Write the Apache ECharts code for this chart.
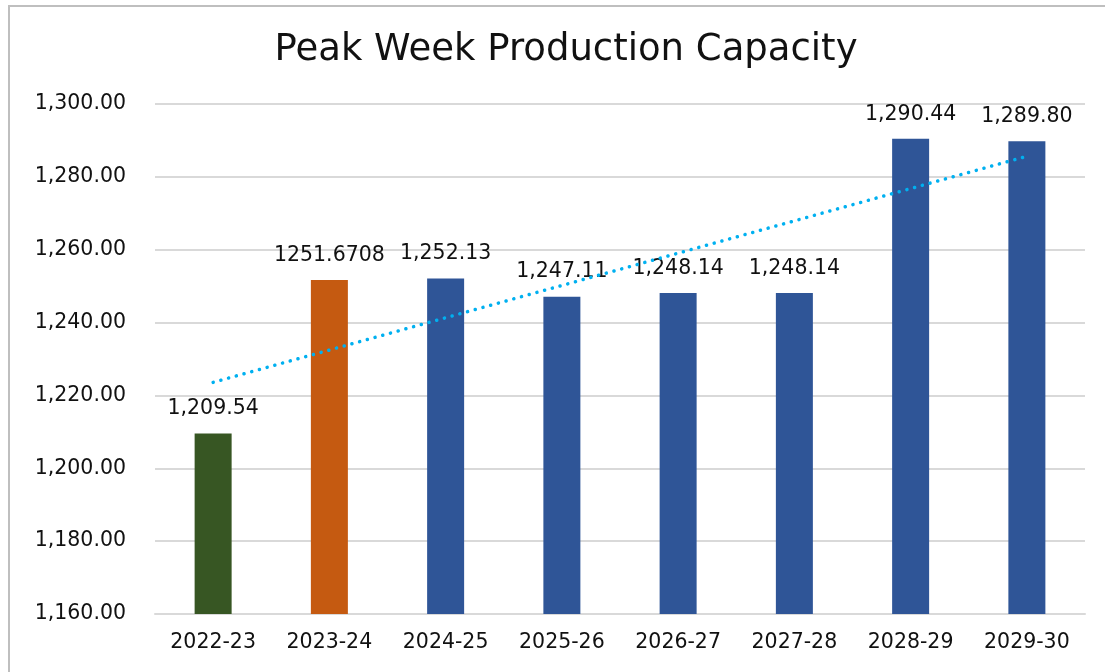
<!DOCTYPE html>
<html>
<head>
<meta charset="utf-8">
<script src="https://cdn.jsdelivr.net/npm/echarts@6/dist/echarts.min.js"></script>
<style>
  html, body { margin: 0; padding: 0; background: #fff; overflow: hidden; width: 1105px; height: 672px; }
  #frame { position: absolute; left: 8px; top: 5px; width: 1097px; height: 667px; border-left: 2px solid #BFBFBF; border-top: 2px solid #BFBFBF; box-sizing: border-box; }
  #main { position: absolute; left: 0; top: 0; width: 1105px; height: 672px; }
</style>
</head>
<body>
<div id="frame"></div>
<div id="main"></div>
<script>
// 年份
var years = ['2022-23', '2023-24', '2024-25', '2025-26', '2026-27', '2027-28', '2028-29', '2029-30'];
// 产能
var capacity = [1209.54, 1251.6708, 1252.13, 1247.11, 1248.14, 1248.14, 1290.44, 1289.80];
// 显示的标签（第二个在原图里没有格式化）
var labels = ['1,209.54', '1251.6708', '1,252.13', '1,247.11', '1,248.14', '1,248.14', '1,290.44', '1,289.80'];
// 柱子颜色
var barColors = ['#375623', '#C55A11', '#2F5597', '#2F5597', '#2F5597', '#2F5597', '#2F5597', '#2F5597'];

var FONT = 'DejaVu Sans';

//线性趋势线（最小二乘）
var n = capacity.length, sx = 0, sy = 0, sxy = 0, sxx = 0;
for (var i = 0; i < n; i++) {
    sx += i; sy += capacity[i]; sxy += i * capacity[i]; sxx += i * i;
}
var slope = (n * sxy - sx * sy) / (n * sxx - sx * sx);
var icpt = (sy - slope * sx) / n;
var trend = [];
for (var i = 0; i < n; i++) {
    trend.push(+(icpt + slope * i).toFixed(3));
}

var barData = [];
for (var i = 0; i < n; i++) {
    barData.push({value: capacity[i], itemStyle: {color: barColors[i]}});
}

function fmt(v) {
    return v.toFixed(2).replace(/\B(?=(\d{3})+(?!\d))/g, ',');
}

var chart = echarts.init(document.getElementById('main'));
var option = {
    animation: false,
    textStyle: {fontFamily: FONT},
    title: {
        text: 'Peak Week Production Capacity',
        left: 561,
        textAlign: 'center',
        top: 27,
        textStyle: {fontFamily: FONT, fontSize: 37, fontWeight: 'normal', color: '#111'}
    },
    grid: {left: 155, right: 20, top: 104, bottom: 58},
    xAxis: {
        type: 'category',
        data: years,
        axisTick: {show: false},
        axisLine: {lineStyle: {color: '#D9D9D9', width: 2}},
        axisLabel: {fontFamily: FONT, fontSize: 20.5, color: '#111', margin: 18}
    },
    yAxis: {
        type: 'value',
        min: 1160,
        max: 1300,
        interval: 20,
        axisLine: {show: false},
        axisTick: {show: false},
        splitLine: {lineStyle: {color: '#D9D9D9', width: 2}},
        axisLabel: {
            fontFamily: FONT, fontSize: 20.5, color: '#111', margin: 29,
            formatter: function (v) { return fmt(v); }
        }
    },
    series: [
        {
            type: 'bar',
            data: barData,
            barWidth: 37,
            label: {
                show: true,
                position: 'top',
                distance: 14,
                fontFamily: FONT,
                fontSize: 20.5,
                color: '#111',
                formatter: function (p) { return labels[p.dataIndex]; }
            }
        },
        {
            type: 'line',
            data: trend,
            symbol: 'none',
            silent: true,
            z: 5,
            lineStyle: {color: '#00B0F0', width: 3.5, type: [0.1, 7.9], cap: 'round'}
        }
    ]
};
if (option && typeof option === "object") {
    chart.setOption(option, true);
}
</script>
</body>
</html>
